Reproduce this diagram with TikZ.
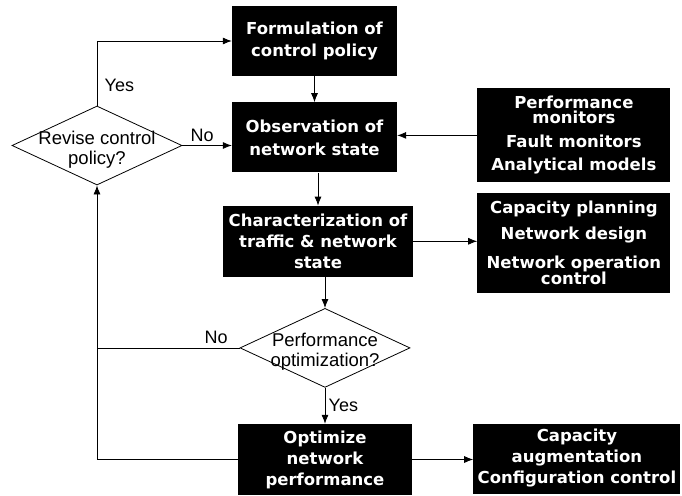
\documentclass[tikz,border=0pt]{standalone}
\usepackage{fontspec}
\setmainfont{Liberation Sans}
\newfontfamily\blockfont{DejaVu Sans}
\usetikzlibrary{shapes.geometric, arrows.meta, positioning}

\begin{document}
\begin{tikzpicture}[x=1pt, y=-1pt, node distance=26pt]

% --- Define Styles ---
\tikzstyle{block} = [rectangle, fill=black, text=white, align=center, inner sep=1pt, font=\blockfont\bfseries\fontsize{16.5}{21}\selectfont]
\tikzstyle{decision} = [diamond, draw=black, fill=white, line width=0.8pt, inner sep=0pt, minimum width=170pt, minimum height=79pt]
\tikzstyle{dtext} = [align=center, font=\fontsize{18.5}{20}\selectfont, yshift=-4pt]
\tikzstyle{tag} = [font=\fontsize{18}{20}\selectfont]
\tikzstyle{arrow} = [line width=0.8pt, ->, >={Latex[length=9pt, width=7pt]}]
\tikzstyle{line} = [line width=0.8pt]

\useasboundingbox (0,0) rectangle (682,495);

% --- Nodes ---
\node (policy) [block, minimum width=165pt, minimum height=70pt] at (314.5,41) {Formulation of\\[1pt]control policy};
\node (observe) [block, below=of policy, minimum width=165pt, minimum height=70pt] {Observation of\\[2pt]network state};
\node (charact) [block, below=33pt of observe, xshift=3.5pt, minimum width=190pt, minimum height=71pt] {Characterization of\\traffic \& network\\state};
\node (perfopt) [decision, below=31pt of charact, xshift=7pt, label={[dtext]center:Performance\\optimization?}] {};
\node (optimize) [block, below=36pt of perfopt, minimum width=174pt, minimum height=71pt] {Optimize\\network\\performance};
\node (revise) [decision, label={[dtext]center:Revise control\\policy?}] at (97,145.5) {};

\node (monitors) [block, right=80pt of observe, yshift=2pt, minimum width=193pt, minimum height=94pt, font=\blockfont\bfseries\fontsize{16.5}{15}\selectfont] {Performance\\monitors\\[9pt]Fault monitors\\[8pt]Analytical models};
\node (planning) [block, below=10pt of monitors, minimum width=193pt, minimum height=100pt, font=\blockfont\bfseries\fontsize{16.5}{16}\selectfont] {Capacity planning\\[9pt]Network design\\[11pt]Network operation\\control};
\node (augment) [block, right=61pt of optimize, yshift=1pt, minimum width=207pt, minimum height=70pt] {Capacity\\augmentation\\Configuration control};

% --- Arrows ---
\draw [arrow] (policy) -- (observe);
\draw [arrow] (observe.south -| charact.north) -- (charact.north);
\draw [arrow] (charact.south -| perfopt.north) -- (perfopt.north);
\draw [arrow] (perfopt) -- node[tag, right] {Yes} (optimize);
\draw [arrow] (revise.north) -- node[tag, right, pos=0.31, xshift=4pt] {Yes} (revise.north |- policy.west) -- (policy.west);
\draw [arrow] (revise.east) -- node[tag, above, pos=0.4] {No} (revise.east -| observe.west);
\draw [arrow] (monitors.west) -- (monitors.west -| observe.east);
\draw [arrow] (charact.east) -- (charact.east -| planning.west);
\draw [arrow] (optimize.east) -- (optimize.east -| augment.west);
\draw [line] (perfopt.west) -- node[tag, above, pos=0.165] {No} (perfopt.west -| revise.south);
\draw [arrow] (optimize.west) -- (optimize.west -| revise.south) -- (revise.south);

\end{tikzpicture}
\end{document}
